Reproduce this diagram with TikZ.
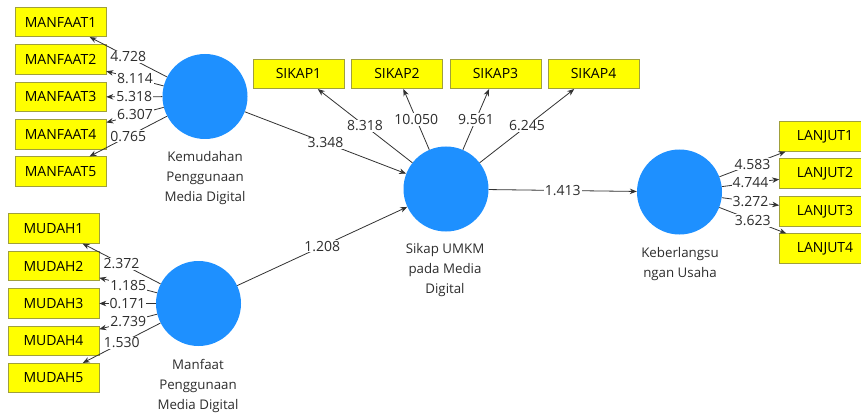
\documentclass[tikz,border=0pt]{standalone}
\usepackage{fontspec}
\setmainfont{Open Sans}
\usetikzlibrary{arrows.meta}
\definecolor{lv}{RGB}{30,144,255}
\definecolor{ind}{RGB}{255,255,0}
\definecolor{indb}{RGB}{160,160,60}
\definecolor{ln}{RGB}{50,50,50}
\definecolor{txt}{RGB}{45,45,45}
\tikzset{
  lvnode/.style={circle,fill=lv,minimum size=85pt,inner sep=0pt},
  indbox/.style={rectangle,fill=ind,draw=indb,line width=0.6pt,minimum width=91pt,minimum height=29.5pt,inner sep=0pt,font=\fontsize{14}{16}\selectfont,text=black},
  lvlabel/.style={align=center,font=\fontsize{13.3}{20}\selectfont,text=txt,inner sep=0pt},
  arr/.style={draw=ln,line width=0.8pt,-{Stealth[length=7pt,width=5.5pt]}},
  val/.style={fill=white,inner sep=1pt,font=\fontsize{14}{16}\selectfont,text=txt}
}
\begin{document}
\begin{tikzpicture}[x=1pt,y=-1pt]
\clip (0,0) rectangle (861,414);
\fill[white] (0,0) rectangle (861,414);
% latent variables
\node[lvnode] (K) at (205,96.5) {};
\node[lvnode] (M) at (198.5,303.5) {};
\node[lvnode] (S) at (446,189) {};
\node[lvnode] (B) at (679.5,192) {};
\node[lvlabel] (Kt) at (205,178.5) {Kemudahan\\Penggunaan\\Media Digital};
\node[lvlabel] (Mt) at (198,386) {Manfaat\\Penggunaan\\Media Digital};
\node[lvlabel] (St) at (445,270) {Sikap UMKM\\pada Media\\Digital};
\node[lvlabel] (Bt) at (680,264.5) {Keberlangsu\\ngan Usaha};
% indicators
\node[indbox] (m1) at (60.5,22) {MANFAAT1};
\node[indbox] (m2) at (60.5,59.5) {MANFAAT2};
\node[indbox] (m3) at (60.5,97) {MANFAAT3};
\node[indbox] (m4) at (60.5,134.5) {MANFAAT4};
\node[indbox] (m5) at (60.5,171.5) {MANFAAT5};
\node[indbox] (u1) at (53.5,228.5) {MUDAH1};
\node[indbox] (u2) at (53.5,266) {MUDAH2};
\node[indbox] (u3) at (53.5,303.5) {MUDAH3};
\node[indbox] (u4) at (53.5,341) {MUDAH4};
\node[indbox] (u5) at (53.5,378) {MUDAH5};
\node[indbox] (s1) at (298.5,74) {SIKAP1};
\node[indbox] (s2) at (397,74) {SIKAP2};
\node[indbox] (s3) at (495.5,74) {SIKAP3};
\node[indbox] (s4) at (593.5,74) {SIKAP4};
\node[indbox] (l1) at (825,136.5) {LANJUT1};
\node[indbox] (l2) at (825,173.5) {LANJUT2};
\node[indbox] (l3) at (825,211.5) {LANJUT3};
\node[indbox] (l4) at (825,248.5) {LANJUT4};
% outer loadings
\draw[arr] (K) -- node[val] {4.728} (m1);
\draw[arr] (K) -- node[val] {8.114} (m2);
\draw[arr] (K) -- node[val] {5.318} (m3);
\draw[arr] (K) -- node[val] {6.307} (m4);
\draw[arr] (K) -- node[val] {0.765} (m5);
\draw[arr] (M) -- node[val] {2.372} (u1);
\draw[arr] (M) -- node[val] {1.185} (u2);
\draw[arr] (M) -- node[val] {0.171} (u3);
\draw[arr] (M) -- node[val] {2.739} (u4);
\draw[arr] (M) -- node[val] {1.530} (u5);
\draw[arr] (S) -- node[val] {8.318} (s1);
\draw[arr] (S) -- node[val] {10.050} (s2);
\draw[arr] (S) -- node[val] {9.561} (s3);
\draw[arr] (S) -- node[val] {6.245} (s4);
\draw[arr] (B) -- node[val] {4.583} (l1);
\draw[arr] (B) -- node[val] {4.744} (l2);
\draw[arr] (B) -- node[val] {3.272} (l3);
\draw[arr] (B) -- node[val] {3.623} (l4);
% paths
\draw[arr] (K) -- node[val] {3.348} (S);
\draw[arr] (M) -- node[val] {1.208} (S);
\draw[arr] (S) -- node[val] {1.413} (B);
\end{tikzpicture}
\end{document}
